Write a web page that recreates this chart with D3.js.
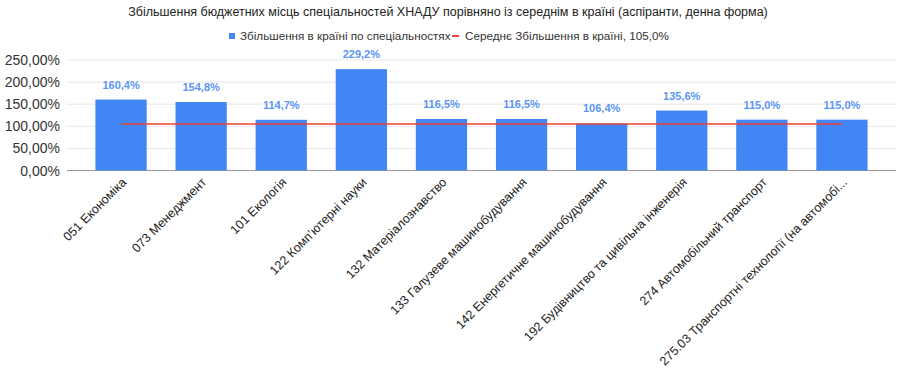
<!DOCTYPE html>
<html>
<head>
<meta charset="utf-8">
<script src="https://cdn.jsdelivr.net/npm/d3@7"></script>
<style>
  body { margin: 0; background: #fff; font-family: "Liberation Sans", Arial, sans-serif; }
</style>
</head>
<body>
<script>
var width = 900
var height = 368

// data
var categories = ["051 Економіка", "073 Менеджмент", "101 Екологія", "122 Комп’ютерні науки",
  "132 Матеріалознавство", "133 Галузеве машинобудування", "142 Енергетичне машинобудування",
  "192 Будівництво та цивільна інженерія", "274 Автомобільний транспорт",
  "275.03 Транспортні технології (на автомобі..."]
var values = [160.4, 154.8, 114.7, 229.2, 116.5, 116.5, 106.4, 135.6, 115.0, 115.0]
var average = 105.0
var yTicks = [0, 50, 100, 150, 200, 250]
var seriesNames = ["Збільшення в країні по спеціальностях", "Середнє Збільшення в країні, 105,0%"]

var fmt = function(v, d) { return v.toFixed(d).replace(".", ",") + "%" }

var svg = d3.select("body").append("svg")
    .attr("width", width)
    .attr("height", height)

var x = d3.scaleBand()
    .domain(categories)
    .range([81, 882])
    .paddingInner(0.36)
    .paddingOuter(0.18)

var y = d3.scaleLinear()
    .domain([0, 250])
    .range([170.5, 60])

// title
svg.append("text")
    .attr("x", 448)
    .attr("y", 16)
    .attr("text-anchor", "middle")
    .style("font-size", "12.5px")
    .style("fill", "#222")
    .text("Збільшення бюджетних місць спеціальностей ХНАДУ порівняно із середнім в країні (аспіранти, денна форма)")

// legend
var legend = svg.append("g")
legend.append("rect")
    .attr("x", 229).attr("y", 33).attr("width", 6).attr("height", 6)
    .attr("fill", "#4285f4")
legend.append("text")
    .attr("x", 240).attr("y", 40)
    .style("font-size", "11.7px").style("fill", "#333")
    .text(seriesNames[0])
legend.append("rect")
    .attr("x", 452).attr("y", 35).attr("width", 7).attr("height", 2)
    .attr("fill", "#ea4335")
legend.append("text")
    .attr("x", 465).attr("y", 40)
    .style("font-size", "11.7px").style("fill", "#333")
    .text(seriesNames[1])

// gridlines
svg.append("g").selectAll("line")
    .data(yTicks)
    .join("line")
    .attr("x1", 67).attr("x2", 896)
    .attr("y1", d => y(d)).attr("y2", d => y(d))
    .attr("stroke", d => d === 0 ? "#999" : "#e6e6e6")
    .attr("stroke-width", 1)

// y axis labels
svg.append("g").selectAll("text")
    .data(yTicks)
    .join("text")
    .attr("x", 60)
    .attr("y", d => y(d) + 5)
    .attr("text-anchor", "end")
    .style("font-size", "14px")
    .style("fill", "#333")
    .text(d => fmt(d, 2))

// bars
svg.append("g").selectAll("rect")
    .data(values)
    .join("rect")
    .attr("x", (d, i) => x(categories[i]))
    .attr("y", d => y(d))
    .attr("width", x.bandwidth())
    .attr("height", d => y(0) - y(d))
    .attr("fill", "#4285f4")

// value labels
svg.append("g").selectAll("text")
    .data(values)
    .join("text")
    .attr("x", (d, i) => x(categories[i]) + x.bandwidth() / 2)
    .attr("y", d => y(d) - 11)
    .attr("text-anchor", "middle")
    .style("font-size", "11px")
    .style("font-weight", "bold")
    .style("fill", "#5b95f5")
    .text(d => fmt(d, 1))

// average line
svg.append("line")
    .attr("x1", x(categories[0]) + x.bandwidth() / 2)
    .attr("x2", x(categories[categories.length - 1]) + x.bandwidth() / 2)
    .attr("y1", y(average)).attr("y2", y(average))
    .attr("stroke", "#ea4335")
    .attr("stroke-width", 1.5)

// x labels
svg.append("g").selectAll("text")
    .data(categories)
    .join("text")
    .attr("transform", d => "translate(" + (x(d) + x.bandwidth() / 2 + 6) + ",183) rotate(-45)")
    .attr("text-anchor", "end")
    .style("font-size", "12.5px")
    .style("fill", "#222")
    .text(d => d)
</script>
</body>
</html>
